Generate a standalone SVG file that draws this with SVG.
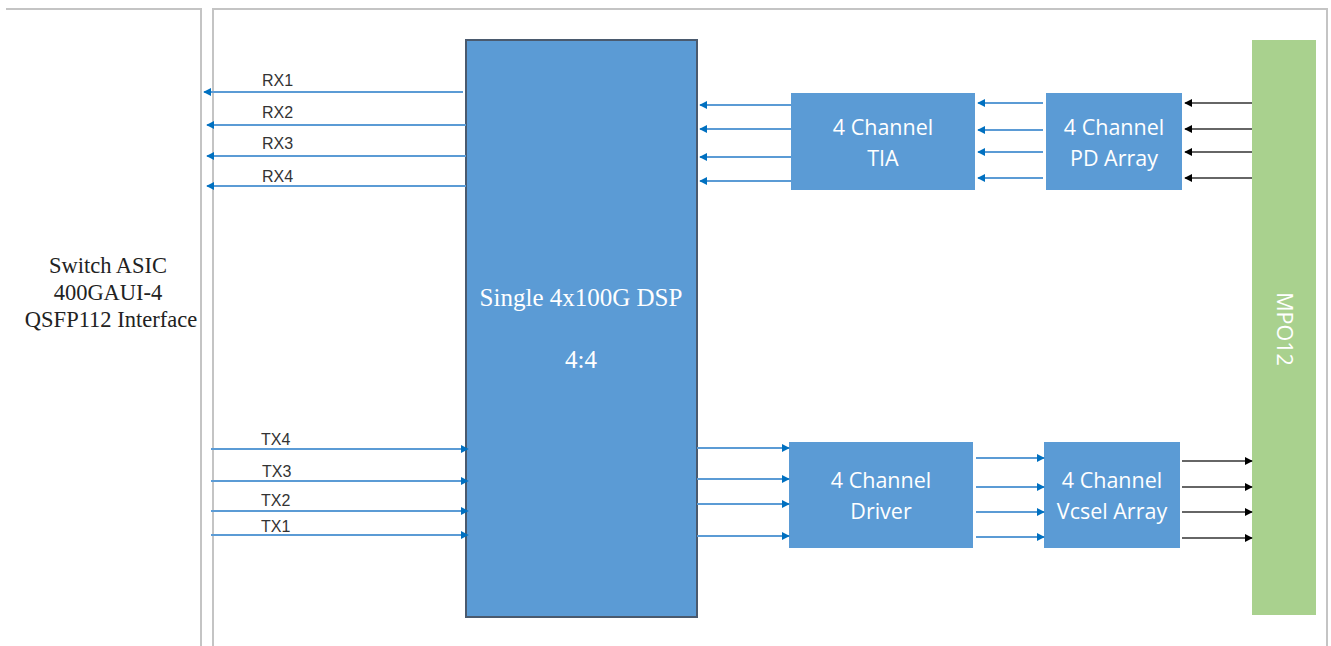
<svg xmlns="http://www.w3.org/2000/svg" width="1331" height="646" viewBox="0 0 1331 646">
<style>
.frame{fill:none;stroke:#c4c4c4;stroke-width:2}
.box{fill:#5b9bd5}
.dsp{fill:#5b9bd5;stroke:#4a5a6e;stroke-width:2}
.mpo{fill:#a9d18e}
.bl{stroke:#5b9bd5;stroke-width:2;fill:none}
.bk{stroke:#333;stroke-width:1.6;fill:none}
.lbl{font-family:"Liberation Sans",Arial,sans-serif;font-size:16px;fill:#333}
.tm{font-family:"Liberation Serif","Times New Roman",serif;text-anchor:middle}
.cal{font-family:"Open Sans","Noto Sans",sans-serif;font-size:21.5px;fill:#fff;text-anchor:middle}
</style>
<defs>
<marker id="ab" viewBox="0 0 10 10" refX="9" refY="5" markerWidth="4" markerHeight="4" orient="auto" markerUnits="strokeWidth">
<path d="M0,0 L10,5 L0,10 z" fill="#0070c0"/>
</marker>
<marker id="ak" viewBox="0 0 10 10" refX="9" refY="5" markerWidth="5" markerHeight="5" orient="auto" markerUnits="strokeWidth">
<path d="M0,0 L10,5 L0,10 z" fill="#000"/>
</marker>
</defs>
<g id="frame">
<path class="frame" d="M6,9 H201 V646"/>
<path class="frame" d="M213,646 V9 H1327 V646"/>
</g>
<g id="asic">
<text class="tm" x="108" y="273" font-size="22.5" fill="#222">Switch ASIC</text>
<text class="tm" x="108" y="300" font-size="22.5" fill="#222">400GAUI-4</text>
<text class="tm" x="111" y="327" font-size="22.5" fill="#222">QSFP112 Interface</text>
</g>
<g id="dsp">
<rect class="dsp" x="466" y="40" width="231" height="577"/>
<text class="tm" x="581" y="306" font-size="25" fill="#fff">Single 4x100G DSP</text>
<text class="tm" x="581" y="368" font-size="25" fill="#fff">4:4</text>
</g>
<g id="tia">
<rect class="box" x="791" y="93" width="184" height="97"/>
<text class="cal" x="883" y="135">4 Channel</text>
<text class="cal" x="883" y="166">TIA</text>
</g>
<g id="pd">
<rect class="box" x="1046" y="93" width="136" height="97"/>
<text class="cal" x="1114" y="135">4 Channel</text>
<text class="cal" x="1114" y="166">PD Array</text>
</g>
<g id="driver">
<rect class="box" x="789" y="442" width="184" height="106"/>
<text class="cal" x="881" y="488">4 Channel</text>
<text class="cal" x="881" y="519">Driver</text>
</g>
<g id="vcsel">
<rect class="box" x="1044" y="442" width="136" height="106"/>
<text class="cal" x="1112" y="488">4 Channel</text>
<text class="cal" x="1112" y="519">Vcsel Array</text>
</g>
<g id="mpo">
<rect class="mpo" x="1252" y="40" width="64" height="575"/>
<text class="cal" transform="translate(1284,329) rotate(90)" x="0" y="7.5" font-size="21">MPO12</text>
</g>
<g id="connectors">
<line class="bl" x1="463" y1="92" x2="204" y2="92" marker-end="url(#ab)"/>
<line class="bl" x1="466" y1="125" x2="207" y2="125" marker-end="url(#ab)"/>
<line class="bl" x1="466" y1="156" x2="207" y2="156" marker-end="url(#ab)"/>
<line class="bl" x1="466" y1="186" x2="207" y2="186" marker-end="url(#ab)"/>
<line class="bl" x1="211" y1="449" x2="468" y2="449" marker-end="url(#ab)"/>
<line class="bl" x1="211" y1="481" x2="468" y2="481" marker-end="url(#ab)"/>
<line class="bl" x1="211" y1="511" x2="468" y2="511" marker-end="url(#ab)"/>
<line class="bl" x1="211" y1="535" x2="468" y2="535" marker-end="url(#ab)"/>
<line class="bl" x1="791" y1="105" x2="700" y2="105" marker-end="url(#ab)"/>
<line class="bl" x1="791" y1="129" x2="700" y2="129" marker-end="url(#ab)"/>
<line class="bl" x1="791" y1="157" x2="700" y2="157" marker-end="url(#ab)"/>
<line class="bl" x1="791" y1="181" x2="700" y2="181" marker-end="url(#ab)"/>
<line class="bl" x1="1043" y1="103" x2="978" y2="103" marker-end="url(#ab)"/>
<line class="bl" x1="1043" y1="130" x2="978" y2="130" marker-end="url(#ab)"/>
<line class="bl" x1="1043" y1="152" x2="978" y2="152" marker-end="url(#ab)"/>
<line class="bl" x1="1043" y1="178" x2="978" y2="178" marker-end="url(#ab)"/>
<line class="bk" x1="1252" y1="103" x2="1185" y2="103" marker-end="url(#ak)"/>
<line class="bk" x1="1252" y1="129" x2="1185" y2="129" marker-end="url(#ak)"/>
<line class="bk" x1="1252" y1="152" x2="1185" y2="152" marker-end="url(#ak)"/>
<line class="bk" x1="1252" y1="178" x2="1185" y2="178" marker-end="url(#ak)"/>
<line class="bl" x1="697" y1="448" x2="789" y2="448" marker-end="url(#ab)"/>
<line class="bl" x1="697" y1="479" x2="789" y2="479" marker-end="url(#ab)"/>
<line class="bl" x1="697" y1="504" x2="789" y2="504" marker-end="url(#ab)"/>
<line class="bl" x1="697" y1="536" x2="789" y2="536" marker-end="url(#ab)"/>
<line class="bl" x1="976" y1="458" x2="1044" y2="458" marker-end="url(#ab)"/>
<line class="bl" x1="976" y1="487" x2="1044" y2="487" marker-end="url(#ab)"/>
<line class="bl" x1="976" y1="512" x2="1044" y2="512" marker-end="url(#ab)"/>
<line class="bl" x1="976" y1="537" x2="1044" y2="537" marker-end="url(#ab)"/>
<line class="bk" x1="1182" y1="461" x2="1252" y2="461" marker-end="url(#ak)"/>
<line class="bk" x1="1182" y1="487" x2="1252" y2="487" marker-end="url(#ak)"/>
<line class="bk" x1="1182" y1="512" x2="1252" y2="512" marker-end="url(#ak)"/>
<line class="bk" x1="1182" y1="538" x2="1252" y2="538" marker-end="url(#ak)"/>
</g>
<g id="labels">
<text class="lbl" x="262" y="86">RX1</text>
<text class="lbl" x="262" y="118">RX2</text>
<text class="lbl" x="262" y="149">RX3</text>
<text class="lbl" x="262" y="182">RX4</text>
<text class="lbl" x="261" y="445">TX4</text>
<text class="lbl" x="262" y="477">TX3</text>
<text class="lbl" x="261" y="506">TX2</text>
<text class="lbl" x="261" y="532">TX1</text>
</g>
</svg>
